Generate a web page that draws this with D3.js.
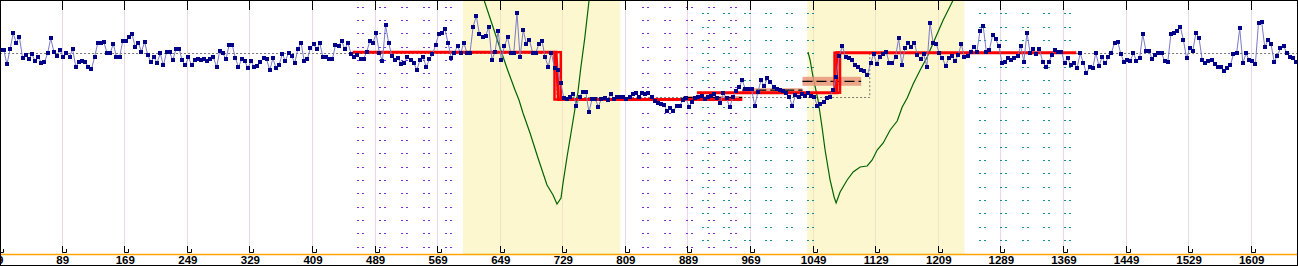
<!DOCTYPE html>
<html><head><meta charset="utf-8">
<script src="https://cdn.jsdelivr.net/npm/d3@7"></script>
<style>html,body{margin:0;padding:0;background:#fff;overflow:hidden}svg{display:block}</style>
</head><body><svg id="chart" width="1298" height="266"></svg>
<script>
// ---------- data ----------
const tickLabels = [9, 89, 169, 249, 329, 409, 489, 569, 649, 729, 809, 889, 969, 1049, 1129, 1209, 1289, 1369, 1449, 1529, 1609];
const sampleStart = 11;   // first sample index
const sampleStep = 4;     // index step between samples
const values = [
150,150,135.7,150.7,166.7,157.3,162.7,141.7,145,140.7,
145.7,139,143.3,137.3,138,146.7,161.7,148.3,144,150,
142.7,146.7,143.3,150.7,133.3,138,139,138,133.3,131,
142.7,156.7,157,157.7,146.7,146.7,156.3,143,143,158.7,
159.3,162.7,166,152.7,157.3,148.3,158.3,144.7,138,142.7,
137.3,146.7,134.7,147.7,147.7,139.7,150.7,151.3,139.7,134.7,
142.7,134.7,140,141.3,140,140.7,139,140.7,142.7,132.7,
149,146.7,140.7,155,155,142.3,132.7,140.7,138.7,132,
138.7,133.3,134,138,141.7,140.7,129.7,141.7,131.7,135.3,
146,139,147.3,144,137,151.3,157.3,138.7,140.7,152,
156,150.7,156.7,142.7,142.7,140.7,
140.7,155,154.3,159,150.7,157.3,145.7,143.3,145,141.3,
141.3,148.3,159.3,157.3,166.7,147.3,139,174.7,157.3,144,
139.7,141.7,136.3,137.3,143.3,140,137.3,130,140,143.3,
133,140.7,145.7,155,166,166.7,170.7,156.7,142.3,147.3,
154,146.7,157.3,147.3,147.3,173.3,184,165.7,162.7,164,
173.3,140,148.3,169.3,140,154,162.7,147.3,147.3,187.3,
142.7,170,156,160,147.3,147.3,156,159.3,142.7,133.3,
147.3,131.7,130,116.7,101.7,100.7,103.3,106,94,103.3,
108,108,88,100.7,101.3,93.3,101.3,102,
100,105.7,101.3,102.7,102.7,103.3,100.7,103.3,
106,106.7,102.7,106.7,106,106.7,103.3,99.3,96.7,
96,95,89,91.7,89,94,94,100,101.7,93.3,
98.3,101.7,103.3,104,100.7,103.3,104,105.7,102.3,
97.3,106.7,102,92.7,102.7,109.3,112.7,120,110.7,110.7,
110.7,94,108,120,114,121.7,118.3,112.7,110.7,110,
109.3,107.3,103.3,94,105,102.7,106,104,106.7,104,
103.3,94,96,98.3,101.7,103.3,110,123.3,
144,154,142.7,141.7,140,135,132.7,130,129.3,125,136.7,146,
136,143.3,146,148.3,136.7,136.7,143.3,161.7,135,151.7,156.7,153.3,157.3,145,140.7,146,
133.3,177.3,157.3,156,146.7,141.7,134,141.7,144,139.3,145,156,143.3,144,
148.3,153.3,148.3,169.3,174,148.3,150,
165,160.7,154,137.3,138.3,141.7,140,141.7,144,154,
138.3,167.3,147.3,150.7,146,150.7,138.3,133.3,138.3,145,
150,148.3,148.3,137.3,141.7,135,136.7,131.7,146.7,137.3,
126.7,132.7,131.7,147.3,134,142.7,136.7,142.7,147.3,157.3,
158.3,146,138,140,139.3,146.7,139.3,141.7,166,149.3,
149.3,140.7,145,146.7,146.7,139,138,166,167.3,169,
173.3,160,141.7,151.7,149.3,167.3,161.7,140,136.7,139.3,
140,136,133.3,133.3,129.3,131.7,134.7,146,146.7,171.7,
136.7,146.7,140,139.3,136,177.3,178.3,152.7,160,156,
138.3,144,151.7,154,147.3,142.7,142,138.3
];
// highlighted windows (sample index ranges)
const bandStart = [602, 1042];
const bandEnd = [803, 1243];
// overall reference level (dotted grey step)
const refX = [0, 722, 722, 1122, 1122, 1680];
const refV = [146.7, 146.7, 102.7, 102.7, 146.7, 146.7];
// fitted step models (red)
const fit1X = [461, 721, 724, 959];
const fit1V = [147.8, 147.8, 100.5, 100.5];
const fit2X = [901, 1080, 1080, 1386];
const fit2V = [107.3, 107.3, 147.3, 147.3];
// change-point uncertainty outlines
const cpX0 = [719, 1077];
const cpX1 = [727, 1084];
const cpLow = [100.5, 107.3];
const cpHigh = [147.8, 147.3];
// segment mean estimates with spread (salmon)
const segX0 = [883, 959, 1036];
const segX1 = [959, 1036, 1111];
const segMean = [102.4, 109.8, 118.7];
const segHalf = [1.6, 2.0, 4.5];
// test statistic curves (green)
const stat1X = [602, 628.9, 639.1, 649.3, 659.5, 668.5, 673.6, 678.7, 687.7, 697.9, 709.4, 717.1, 722.2, 727.3, 729.9, 735.0, 740.1, 744.9, 748.8, 752.6, 757.7, 762.8, 767.9];
const stat1V = [265, 200, 176, 152, 129, 110, 100, 87, 67, 42, 15, 5, -4, 2, 17, 43, 67, 90, 107, 132, 162, 197, 232];
const stat2X = [1043.1, 1045.7, 1049.5, 1055.9, 1061.0, 1064.9, 1071.3, 1076.4, 1079.0, 1084.1, 1093.1, 1100.8, 1109.7, 1118.7, 1125.1, 1131.5, 1139.2, 1148.1, 1157.1, 1163.5, 1169.9, 1177.5, 1186.5, 1195.4, 1203.1, 1215.9, 1228.7, 1237.6, 1242.7];
const stat2V = [148, 140, 123, 100, 73, 50, 20, 3, -3, 8, 20, 28, 33, 34, 40, 50, 57, 70, 79, 93, 102, 116, 130, 143, 157, 180, 200, 214, 222];
// dotted window markers
const purpleCols = [467, 495, 523, 551, 579, 831, 859, 887, 915, 943];
const tealCols = [907, 934, 961, 988, 1015, 1042, 1262, 1289, 1316, 1343, 1370];

// ---------- drawing ----------
const W = 1298, H = 266, axisY = 254;
const svg = d3.select('#chart');
const x = d3.scaleLinear().domain([9, 1609]).range([-0.88, 1250.7]);
const y = d3.scaleLinear().domain([0, 200]).range([200, 0]);

svg.append('rect').attr('width', W).attr('height', H).attr('fill', '#fff');
svg.append('defs').append('clipPath').attr('id', 'plot')
  .append('rect').attr('x', 0).attr('y', 0).attr('width', W).attr('height', axisY);
const g = svg.append('g').attr('clip-path', 'url(#plot)');

// grid lines
g.selectAll('.grid').data(tickLabels).join('line')
  .attr('x1', d => Math.round(x(d)) + 0.5).attr('x2', d => Math.round(x(d)) + 0.5)
  .attr('y1', 0).attr('y2', axisY).attr('stroke', '#ecd6ec').attr('stroke-width', 1);

// bands
g.selectAll('.band').data(bandStart).join('rect')
  .attr('x', (d) => x(d)).attr('y', 0)
  .attr('width', (d, i) => x(bandEnd[i]) - x(d)).attr('height', axisY)
  .attr('fill', 'rgb(250,240,160)').attr('fill-opacity', 0.5);

// dotted columns
const rowsP = d3.range(0, 19).map(r => 6.7 + 13.333 * r);
const rowsT = d3.range(1, 19).map(r => 13.333 * r);
function dotCols(cols, rows, color) {
  cols.forEach(c => {
    const cx = Math.round(x(c));
    rows.forEach(ry => {
      g.append('rect').attr('x', cx).attr('y', Math.round(ry)).attr('width', 2).attr('height', 1).attr('fill', color);
      g.append('rect').attr('x', cx + 5).attr('y', Math.round(ry)).attr('width', 2).attr('height', 1).attr('fill', color);
    });
  });
}
dotCols(purpleCols, rowsP, '#7a2ee0');
dotCols(tealCols, rowsT, '#119090');

// reference dotted step
g.append('path').datum(refX.map((d, i) => [d, refV[i]]))
  .attr('d', d3.line().x(d => x(d[0])).y(d => Math.round(y(d[1])) + 0.5))
  .attr('fill', 'none').attr('stroke', '#777').attr('stroke-width', 1).attr('stroke-dasharray', '2,2');

// green statistic curves
const gl = d3.line().x(d => x(d[0])).y(d => y(d[1]));
[[stat1X, stat1V], [stat2X, stat2V]].forEach(([sx, sv]) => {
  g.append('path').datum(sx.map((d, i) => [d, sv[i]])).attr('d', gl)
    .attr('fill', 'none').attr('stroke', '#006400').attr('stroke-width', 1.2);
});

// salmon segment boxes
segX0.forEach((d, i) => {
  g.append('rect').attr('x', x(d)).attr('y', y(segMean[i] + segHalf[i]))
    .attr('width', x(segX1[i]) - x(d)).attr('height', y(segMean[i] - segHalf[i]) - y(segMean[i] + segHalf[i]))
    .attr('fill', '#e9967a').attr('fill-opacity', 0.85);
  g.append('line').attr('x1', x(d)).attr('x2', x(segX1[i]))
    .attr('y1', y(segMean[i])).attr('y2', y(segMean[i]))
    .attr('stroke', '#000').attr('stroke-width', 1.3).attr('stroke-dasharray', '10,4');
});

// red fits
const rl = d3.line().x(d => x(d[0])).y(d => y(d[1]));
[[fit1X, fit1V], [fit2X, fit2V]].forEach(([fx, fv]) => {
  g.append('path').datum(fx.map((d, i) => [d, fv[i]])).attr('d', rl)
    .attr('fill', 'none').attr('stroke', '#ff0000').attr('stroke-width', 3);
});
cpX0.forEach((d, i) => {
  g.append('rect').attr('x', x(d)).attr('y', y(cpHigh[i]))
    .attr('width', x(cpX1[i]) - x(d)).attr('height', y(cpLow[i]) - y(cpHigh[i]))
    .attr('fill', 'none').attr('stroke', '#ff0000').attr('stroke-width', 2.5);
});

// data series
const pts = values.map((v, i) => [sampleStart + sampleStep * i, v]);
g.append('path').datum(pts).attr('d', d3.line().x(d => x(d[0])).y(d => y(d[1])))
  .attr('fill', 'none').attr('stroke', '#7b7bc8').attr('stroke-width', 1);
g.selectAll('.pt').data(pts).join('rect')
  .attr('x', d => Math.round(x(d[0])) - 2).attr('y', d => Math.round(y(d[1])) - 2)
  .attr('width', 4).attr('height', 4).attr('fill', '#000088');

// top tick marks
svg.selectAll('.tt').data(tickLabels).join('line')
  .attr('x1', d => Math.round(x(d)) + 0.5).attr('x2', d => Math.round(x(d)) + 0.5)
  .attr('y1', 0).attr('y2', 10).attr('stroke', '#000');

// bottom axis
svg.append('line').attr('x1', 0).attr('x2', W).attr('y1', axisY + 0.5).attr('y2', axisY + 0.5)
  .attr('stroke', '#ffa500').attr('stroke-width', 1.5);
svg.selectAll('.tk').data(tickLabels).join('path')
  .attr('d', d => { const px = Math.round(x(d)) + 0.5; return `M${px},246V252.5H${px + 4}V249`; })
  .attr('fill', 'none').attr('stroke', '#000').attr('stroke-width', 1);
svg.selectAll('.lbl').data(tickLabels).join('text')
  .attr('x', d => x(d) + 1).attr('y', 264).attr('text-anchor', 'middle')
  .attr('font-family', 'Liberation Sans, Arial, sans-serif').attr('font-weight', 'bold').attr('font-size', 11.5)
  .attr('fill', '#000').text(d => d);

// frame
svg.append('rect').attr('x', 0.5).attr('y', 0.5).attr('width', W - 1).attr('height', H - 1)
  .attr('fill', 'none').attr('stroke', '#000').attr('stroke-width', 1);
</script></body></html>
